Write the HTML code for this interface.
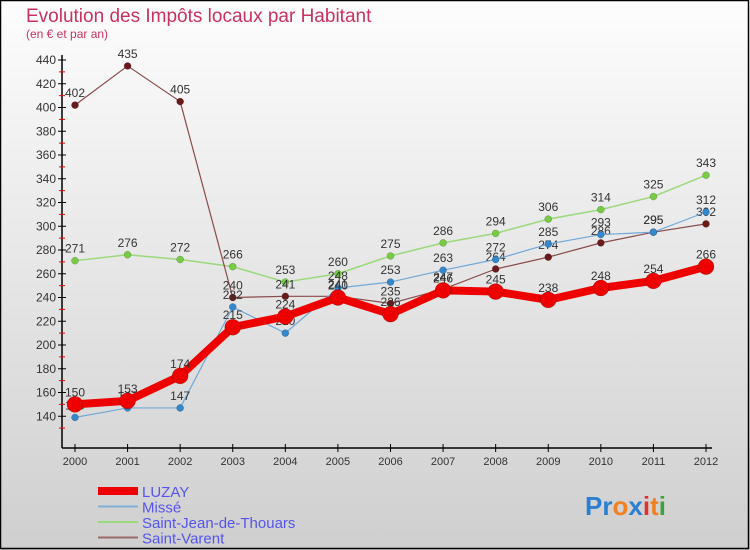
<!DOCTYPE html>
<html><head><meta charset="utf-8"><style>
html,body{margin:0;padding:0}
body{width:750px;height:550px;overflow:hidden;font-family:"Liberation Sans",sans-serif}
</style></head><body>
<svg id="chart" width="750" height="550" xmlns="http://www.w3.org/2000/svg" style="display:block">
<defs><linearGradient id="bg" x1="0" y1="0" x2="0" y2="1"><stop offset="0" stop-color="#fdfdfd"/><stop offset="1" stop-color="#cfcfcf"/></linearGradient></defs>
<rect x="0" y="0" width="750" height="550" fill="url(#bg)"/>
<rect x="0.5" y="0.5" width="748" height="548" fill="none" stroke="#000" stroke-width="1.5"/>
<text x="26" y="22" font-size="19" fill="#c8325e">Evolution des Impôts locaux par Habitant</text>
<text x="26" y="38" font-size="12" fill="#c8325e">(en € et par an)</text>
<g id="axes"></g><g id="series"></g><g id="legend"></g>
<text x="585" y="515" font-size="26" font-weight="bold" fill="#2a7fd0">Pr<tspan fill="#f08020">o</tspan><tspan fill="#2a7fd0">x</tspan><tspan fill="#e03030">i</tspan><tspan fill="#f08020">t</tspan><tspan fill="#40a040">i</tspan></text>
</svg>
<script>
const years=[2000,2001,2002,2003,2004,2005,2006,2007,2008,2009,2010,2011,2012];
const yTicks=[140,160,180,200,220,240,260,280,300,320,340,360,380,400,420,440];
const luzay=[150,153,174,215,224,240,226,246,245,238,248,254,266];
const misse=[139,147,147,232,210,248,253,263,272,285,293,295,312];
const stJean=[271,276,272,266,253,260,275,286,294,306,314,325,343];
const stVarent=[402,435,405,240,241,241,235,247,264,274,286,295,302];
const names=["LUZAY","Missé","Saint-Jean-de-Thouars","Saint-Varent"];
const NS="http://www.w3.org/2000/svg";
const X=i=>75+i*(706-75)/(years.length-1);
const Y=v=>440-(v-120)*1.1875;
function mk(p,t,a){const e=document.createElementNS(NS,t);for(const k in a)e.setAttribute(k,a[k]);p.appendChild(e);return e;}
const ax=document.getElementById('axes');
let l=mk(ax,'line',{x1:62,y1:55,x2:62,y2:448,stroke:'#000','stroke-width':1.5});


l=mk(ax,'line',{x1:62,y1:448,x2:712,y2:448,stroke:'#000','stroke-width':1.5});


yTicks.forEach(v=>{
  mk(ax,'line',{x1:58,y1:Y(v),x2:66,y2:Y(v),stroke:'#000'});
  mk(ax,'line',{x1:59,y1:Y(v-10),x2:65,y2:Y(v-10),stroke:'#e00'});
  const t=mk(ax,'text',{x:56,y:Y(v)+4,'font-size':12,'text-anchor':'end',fill:'#333'});
  
  
  t.textContent=v;
});
years.forEach((yr,i)=>{
  mk(ax,'line',{x1:X(i),y1:444,x2:X(i),y2:452,stroke:'#000'});
  const t=mk(ax,'text',{x:X(i),y:465,'font-size':11,'text-anchor':'middle',fill:'#333'});
  
  
  t.textContent=yr;
});
const sg=document.getElementById('series');
const defs=[[stJean,'#99d97a','#77cc44',1.5,3.5,'series-saint-jean'],[stVarent,'#8a4a4a','#6a1a1a',1.2,3.5,'series-saint-varent'],[misse,'#6fa8d8','#3388cc',1.2,3.5,'series-misse'],[luzay,'#ee0000','#ee0000',8,8,'series-luzay']];
defs.forEach(([d,lc,pc,w,r,n])=>{
  const g=mk(sg,'g',{});
  
  
  mk(g,'polyline',{points:d.map((v,i)=>X(i)+','+Y(v)).join(' '),fill:'none',stroke:lc,'stroke-width':w,'stroke-linejoin':'round'});
  d.forEach((v,i)=>{
    const c=mk(g,'circle',{cx:X(i),cy:Y(v),r:r,fill:pc,stroke:'rgba(0,0,0,0.3)','stroke-width':0.5});
    
    
    const t=mk(g,'text',{x:X(i),y:Y(v)-8,'font-size':12,'text-anchor':'middle',fill:'#333'});
    
    
    t.textContent=v;
  });
});
const lg=document.getElementById('legend');
const lcol=['#ee0000','#7fb0d8','#99d97a','#9a6a6a'],lw=[8,2,2,2];
names.forEach((nm,i)=>{
  const y=491+i*15.5;
  const g=mk(lg,'g',{});
  
  
  mk(g,'line',{x1:98,y1:y,x2:138,y2:y,stroke:lcol[i],'stroke-width':lw[i]});
  const t=mk(g,'text',{x:142,y:y+6,'font-size':15,fill:'#5555ee'});
  t.textContent=nm;
});
</script>
</body></html>
